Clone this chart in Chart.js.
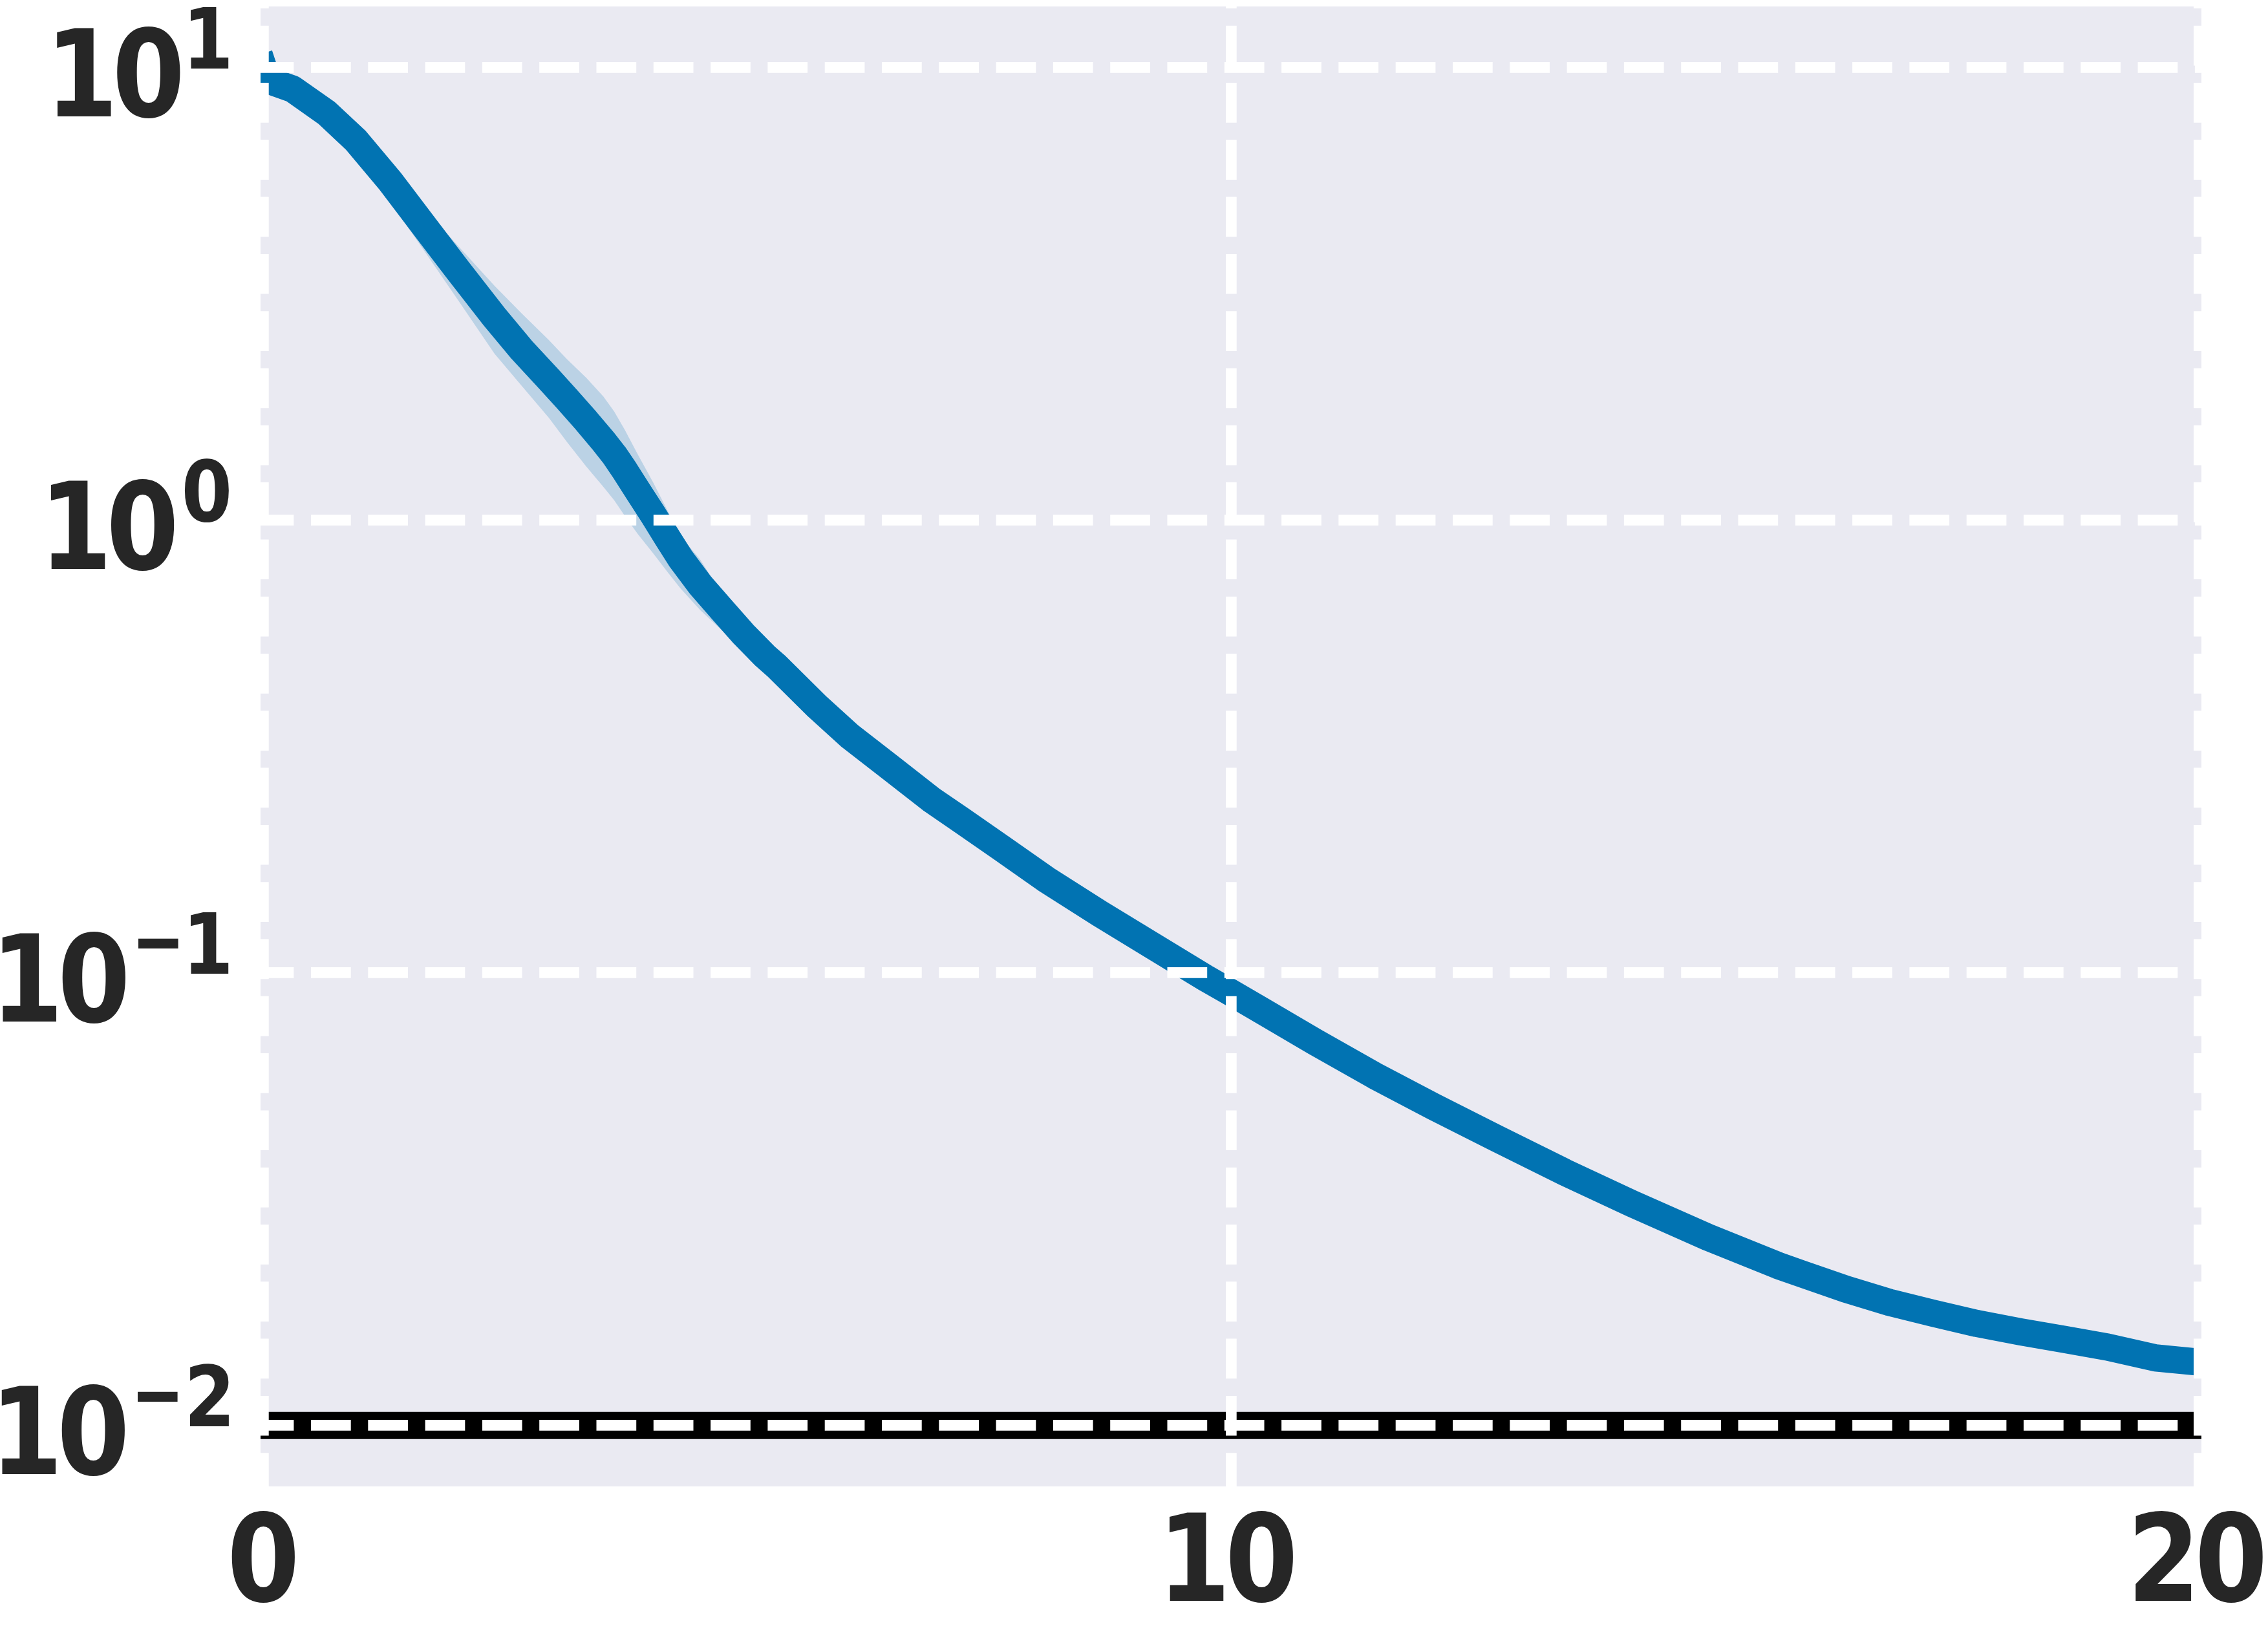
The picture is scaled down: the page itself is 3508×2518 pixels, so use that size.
<!DOCTYPE html>
<html>
<head>
<meta charset="utf-8">
<script src="https://cdn.jsdelivr.net/npm/chart.js@4/dist/chart.umd.min.js"></script>
<style>
  html, body { margin: 0; padding: 0; background: #ffffff; }
  #wrap { width: 3508px; height: 2518px; position: relative; }
</style>
</head>
<body>
<div id="wrap"><canvas id="c"></canvas></div>
<script>
// ---- data ----
const steps = [0, 0.043, 0.301, 0.653, 0.957, 1.309, 1.684, 2.012, 2.387, 2.668, 2.949,
  3.134, 3.335, 3.512, 3.624, 3.735, 3.869, 4.025, 4.180, 4.314, 4.514, 4.737, 4.960, 5.182,
  5.301, 5.709, 6.051, 6.494, 6.903, 7.209, 7.619, 8.095, 8.641, 9.186, 9.732, 10.001, 10.304,
  10.867, 11.480, 12.094, 12.741, 13.440, 14.138, 14.922, 15.648, 15.898, 16.349, 16.799,
  17.250, 17.701, 18.152, 18.602, 19.053, 19.549, 20.0];
const lossMean = [10.0, 9.38, 8.97, 7.94, 6.90, 5.61, 4.40, 3.56, 2.81, 2.38, 2.05,
  1.855, 1.658, 1.495, 1.394, 1.286, 1.159, 1.029, 0.910, 0.820, 0.719, 0.634, 0.560, 0.501,
  0.476, 0.390, 0.3345, 0.2823, 0.2412, 0.2175, 0.1891, 0.1604, 0.1352, 0.1148, 0.09747, 0.09031, 0.08277,
  0.07033, 0.05929, 0.05058, 0.04307, 0.03631, 0.03093, 0.02606, 0.02256, 0.0216, 0.0200, 0.0187,
  0.0177, 0.0168, 0.0161, 0.0155, 0.0149, 0.0141, 0.0138];

const bandSteps = [0, 0.043, 0.301, 0.653, 0.957, 1.309, 1.684, 2.012, 2.387, 2.668, 2.949,
  3.134, 3.335, 3.512, 3.624, 3.735, 3.869, 4.025, 4.180, 4.314, 4.514, 4.737, 4.960, 5.182];
const bandUpper = [10.21, 9.572, 9.162, 8.110, 7.047, 6.012, 4.819, 4.036, 3.296, 2.864, 2.500,
  2.272, 2.064, 1.877, 1.739, 1.581, 1.396, 1.214, 1.045, 0.920, 0.818, 0.687, 0.586, 0.513];
const bandLower = [9.795, 9.183, 8.790, 7.780, 6.761, 5.058, 3.873, 3.062, 2.333, 1.982, 1.683,
  1.491, 1.314, 1.185, 1.107, 1.021, 0.931, 0.846, 0.766, 0.705, 0.633, 0.571, 0.522, 0.490];

const thresholdLevel = 0.01;

const xRange = [-0.03, 20.023];
const yRange = [0.007333, 13.65];
const xTicks = [0, 10, 20];
const xTickLabels = ['0', '10', '20'];
const yTicks = [0.01, 0.1, 1, 10];
const yTickBase = ['10', '10', '10', '10'];
const yTickExponents = ['-2', '-1', '0', '1'];

// ---- styles ----
const BG = '#EAEAF2';
const LINE_BLUE = '#0173B2';
const BAND_FILL = 'rgba(1,115,178,0.2)';
const TEXT = '#262626';
const FAMILY = '"DejaVu Sans", sans-serif';
const MAIN_FONT = 'bold 176px ' + FAMILY;
const SUP_FONT = 'bold 123px ' + FAMILY;
const SX = 0.92, SY = 1.06;

const pts = (xs, ys) => xs.map((x, i) => ({ x: x, y: ys[i] }));

function inkMetrics(ctx, text, font, ls) {
  ctx.font = font;
  ctx.letterSpacing = ls || '0px';
  const m = ctx.measureText(text);
  return { l: m.actualBoundingBoxLeft, r: m.actualBoundingBoxRight,
           a: m.actualBoundingBoxAscent, d: m.actualBoundingBoxDescent };
}
// draw text so that its ink matches a given horizontal anchor
function drawInk(ctx, text, font, ls, sx, sy, mode, xAnchor, baseline) {
  const m = inkMetrics(ctx, text, font, ls);
  let ox;
  if (mode === 'right') ox = xAnchor - sx * m.r;
  else if (mode === 'left') ox = xAnchor + sx * m.l;
  else ox = xAnchor - sx * (m.r - m.l) / 2;
  ctx.save();
  ctx.font = font;
  ctx.letterSpacing = ls || '0px';
  ctx.translate(ox, baseline);
  ctx.scale(sx, sy);
  ctx.fillText(text, 0, 0);
  ctx.restore();
  return { left: ox - sx * m.l, right: ox + sx * m.r, a: m.a * sy, d: m.d * sy };
}

const bgPlugin = {
  id: 'axesBg',
  beforeDraw(chart) {
    const a = chart.chartArea, ctx = chart.ctx;
    ctx.save();
    ctx.fillStyle = BG;
    ctx.fillRect(a.left, a.top, a.right - a.left, a.bottom - a.top);
    ctx.restore();
  }
};

const labelPlugin = {
  id: 'tickText',
  afterDraw(chart) {
    const ctx = chart.ctx, xs = chart.scales.x, ys = chart.scales.y, a = chart.chartArea;
    ctx.save();
    ctx.fillStyle = TEXT;
    ctx.textBaseline = 'alphabetic';
    ctx.textAlign = 'left';
    // x tick labels
    xTicks.forEach((v, i) => {
      drawInk(ctx, xTickLabels[i], MAIN_FONT, '-9px', SX, SY, 'center', xs.getPixelForValue(v), a.bottom + 177);
    });
    // y tick labels: "10" with a superscript exponent
    const inkRight = 354;
    yTicks.forEach((v, i) => {
      const py = ys.getPixelForValue(v);
      const exp = yTickExponents[i];
      const neg = exp.charAt(0) === '-';
      const digits = neg ? exp.slice(1) : exp;
      const sup = drawInk(ctx, digits, SUP_FONT, '0px', SX, SY, 'right', inkRight, py + 1.5);
      let mainRight = sup.left - 15;
      if (neg) {
        const mm = inkMetrics(ctx, '\u2212', SUP_FONT);
        const base = py - 45 + SY * (mm.a - mm.d) / 2;
        const minus = drawInk(ctx, '\u2212', SUP_FONT, '0px', 0.8, SY, 'right', sup.left - 18, base);
        mainRight = minus.left - 19;
      }
      drawInk(ctx, yTickBase[i], MAIN_FONT, '-10px', SX, SY, 'right', mainRight, py + 75);
    });
    ctx.restore();
  }
};

new Chart(document.getElementById('c'), {
  type: 'line',
  data: {
    datasets: [
      {
        label: 'band upper',
        data: pts(bandSteps, bandUpper),
        borderWidth: 0, pointRadius: 0, tension: 0,
        fill: '+1', backgroundColor: BAND_FILL, borderColor: 'rgba(0,0,0,0)',
        order: 3, clip: 0
      },
      {
        label: 'band lower',
        data: pts(bandSteps, bandLower),
        borderWidth: 0, pointRadius: 0, tension: 0,
        fill: false, borderColor: 'rgba(0,0,0,0)',
        order: 3, clip: 0
      },
      {
        label: 'threshold',
        data: pts(xRange, [thresholdLevel, thresholdLevel]),
        borderColor: '#000000', borderWidth: 42, pointRadius: 0,
        borderCapStyle: 'butt', fill: false, order: 2, clip: 0
      },
      {
        label: 'mean',
        data: pts(steps, lossMean),
        borderColor: LINE_BLUE, borderWidth: 42, pointRadius: 0, tension: 0,
        borderCapStyle: 'square', borderJoinStyle: 'round',
        fill: false, order: 1, clip: 0
      }
    ]
  },
  options: {
    responsive: true,
    maintainAspectRatio: false,
    animation: false,
    devicePixelRatio: 1,
    layout: { padding: { top: 10, right: 103, left: 0, bottom: 0 } },
    plugins: { legend: { display: false }, tooltip: { enabled: false } },
    scales: {
      x: {
        type: 'linear',
        min: xRange[0], max: xRange[1],
        afterBuildTicks: (s) => { s.ticks = xTicks.map(v => ({ value: v })); },
        afterFit: (s) => { s.height = 219; },
        ticks: { display: false },
        grid: { color: '#ffffff', lineWidth: 16.7, drawTicks: false, z: 1 },
        border: { display: false, dash: [61.7, 26.6], dashOffset: 58.6 }
      },
      y: {
        type: 'logarithmic',
        min: yRange[0], max: yRange[1],
        afterBuildTicks: (s) => { s.ticks = yTicks.map(v => ({ value: v })); },
        afterFit: (s) => { s.width = 403; },
        ticks: { display: false },
        grid: { color: '#ffffff', lineWidth: 16.7, drawTicks: false, z: 1 },
        border: { display: false, dash: [61.7, 26.6], dashOffset: 10.3 }
      }
    }
  },
  plugins: [bgPlugin, labelPlugin]
});
</script>
</body>
</html>
